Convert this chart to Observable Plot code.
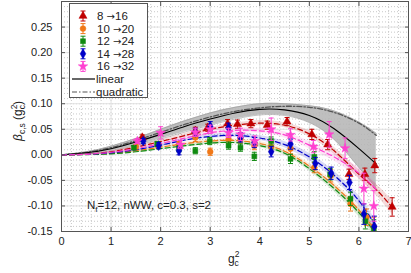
<!DOCTYPE html>
<html><head><meta charset="utf-8">
<script src="https://cdn.jsdelivr.net/npm/d3@7"></script>
<script src="https://cdn.jsdelivr.net/npm/@observablehq/plot@0.6"></script>
<style>body{margin:0;background:#fff;} svg{display:block;}</style>
</head><body><div id="chart"></div>
<script>
// ---- data ----
const xTicks = [0,1,2,3,4,5,6,7];
const yTicks = [-0.15,-0.10,-0.05,0,0.05,0.10,0.15,0.20,0.25];
const seriesNames = ["8→16","10→20","12→24","14→28","16→32"];
const seriesColors = ["#c00000","#f07818","#108a10","#0000c8","#ff40d0"];
const seriesSymbols = ["triangle","circle","square","diamond","star"];

const redG = [1.63,2.70,2.95,3.35,3.55,3.82,4.15,4.55,5.05,5.37,5.80,6.12,6.32,6.67];
const redB = [0.034,0.047,0.053,0.061,0.060,0.061,0.058,0.065,0.040,0.020,-0.038,-0.038,-0.021,-0.102];
const redE = [0.005,0.007,0.007,0.008,0.008,0.008,0.008,0.008,0.010,0.010,0.010,0.012,0.014,0.018];

const orangeG = [1.50,1.95,2.37,2.70,3.00,3.37,3.61,3.89,4.23,4.62,5.10,5.43,5.83,6.15,6.30];
const orangeB = [0.016,0.018,0.020,0.034,0.006,0.030,0.031,0.018,0.016,0.012,-0.025,-0.041,-0.096,-0.122,-0.140];
const orangeE = [0.004,0.005,0.006,0.008,0.007,0.008,0.008,0.008,0.009,0.010,0.010,0.012,0.014,0.016,0.018];

const greenG = [1.46,1.93,2.37,2.70,2.99,3.37,3.61,3.89,4.23,4.62,5.10,5.42,5.83,6.13,6.30];
const greenB = [0.014,0.021,0.012,0.008,0.027,0.018,0.014,-0.003,0.027,-0.008,-0.004,-0.038,-0.086,-0.130,-0.145];
const greenE = [0.004,0.005,0.006,0.006,0.007,0.007,0.007,0.008,0.008,0.009,0.010,0.011,0.013,0.015,0.018];

const blueG = [1.65,1.96,2.37,2.70,3.00,3.37,3.61,3.89,4.23,4.62,5.12,5.44,5.81,6.10,6.31];
const blueB = [0.027,0.018,0.008,0.044,0.056,0.053,0.034,0.024,0.006,0.021,-0.017,-0.036,-0.054,-0.116,-0.140];
const blueE = [0.005,0.006,0.008,0.008,0.009,0.009,0.009,0.010,0.010,0.010,0.012,0.012,0.014,0.020,0.020];

const pinkG = [1.53,2.00,2.40,2.70,3.00,3.37,3.61,3.90,4.23,4.62,5.08,5.40,5.72,6.10,6.30];
const pinkB = [0.027,0.043,0.020,0.044,0.050,0.043,0.040,0.027,0.050,0.039,0.016,0.040,0.013,-0.066,-0.100];
const pinkE = [0.005,0.012,0.008,0.008,0.008,0.009,0.012,0.010,0.022,0.012,0.012,0.025,0.020,0.030,0.030];

// fitted curves
const fitG    = [0,0.5,1,1.5,2,2.5,3,3.5,4,4.5,5,5.5,6,6.35];
const redFitG = [0,0.5,1,1.5,2,2.5,3,3.5,4,4.5,5,5.5,6,6.35,6.7];
const redFit   = [0,0.001,0.006,0.015,0.026,0.038,0.050,0.058,0.062,0.058,0.041,0.008,-0.038,-0.068,-0.106];
const redHw    = [0,0.001,0.002,0.003,0.003,0.004,0.004,0.004,0.005,0.005,0.006,0.007,0.009,0.011,0.014];
const orangeFit= [0,0.001,0.003,0.008,0.015,0.022,0.027,0.028,0.022,0.007,-0.022,-0.060,-0.108,-0.150];
const orangeHw = [0,0.001,0.001,0.002,0.002,0.003,0.003,0.003,0.004,0.004,0.005,0.006,0.008,0.010];
const greenFit = [0,0.0005,0.002,0.006,0.012,0.018,0.023,0.024,0.018,0.003,-0.027,-0.066,-0.113,-0.155];
const greenHw  = [0,0.001,0.001,0.002,0.002,0.003,0.003,0.003,0.004,0.004,0.005,0.006,0.008,0.010];
const blueFit  = [0,0.001,0.004,0.010,0.019,0.029,0.036,0.038,0.033,0.020,-0.004,-0.040,-0.090,-0.142];
const blueHw   = [0,0.001,0.002,0.002,0.003,0.003,0.004,0.004,0.005,0.006,0.007,0.008,0.010,0.012];
const pinkFit  = [0,0.001,0.005,0.012,0.022,0.033,0.043,0.048,0.047,0.039,0.019,-0.004,-0.036,-0.068];
const pinkHw   = [0,0.001,0.002,0.003,0.003,0.004,0.004,0.005,0.005,0.006,0.007,0.008,0.010,0.012];

const linearFit = [0,0.004,0.012,0.025,0.040,0.056,0.070,0.082,0.089,0.088,0.077,0.051,0.012,-0.018];
const linearHi  = [0,0.006,0.017,0.032,0.050,0.067,0.082,0.093,0.100,0.100,0.096,0.086,0.064,0.042];
const linearLo  = [0,0.002,0.008,0.018,0.031,0.045,0.058,0.070,0.078,0.077,0.063,0.030,-0.025,-0.065];
const quadFit   = [0,0.005,0.014,0.028,0.044,0.060,0.074,0.085,0.092,0.095,0.093,0.083,0.062,0.038];

// ---- build tables ----
const pts = [[redG,redB,redE],[orangeG,orangeB,orangeE],[greenG,greenB,greenE],[blueG,blueB,blueE],[pinkG,pinkB,pinkE]]
  .flatMap(([G,B,E],s) => G.map((g,i)=>({s, g, b:B[i], e:E[i]})));
const fits = [[redFitG,redFit,redHw],[fitG,orangeFit,orangeHw],[fitG,greenFit,greenHw],[fitG,blueFit,blueHw],[fitG,pinkFit,pinkHw]]
  .map(([G,F,H],s) => G.map((g,i)=>({s, g, f:F[i], h:H[i]})));
const gray = fitG.map((g,i)=>({g, lin:linearFit[i], hi:linearHi[i], lo:linearLo[i], q:quadFit[i]}));

const capSymbol = {draw(ctx, size){ const w = Math.sqrt(size/Math.PI); ctx.moveTo(-w,0); ctx.lineTo(w,0);} };
const minorX = d3.range(0, 7.001, 0.2);
const minorY = d3.range(-15, 31, 1).map(v => v/100);
const majorY = d3.range(-15, 31, 5).map(v => v/100);
const symR = [3.0,2.9,2.8,3.0,3.0];

const marks = [
  Plot.gridX(minorX, {stroke:"#c8c8c8", strokeOpacity:1, strokeDasharray:"1,2"}),
  Plot.gridY(minorY, {stroke:"#c8c8c8", strokeOpacity:1, strokeDasharray:"1,2"}),
  Plot.gridX(xTicks, {stroke:"#e2e2e2", strokeOpacity:1}),
  Plot.gridY(majorY, {stroke:"#e2e2e2", strokeOpacity:1}),
  Plot.areaY(gray, {x:"g", y1:"lo", y2:"hi", fill:"#b4b4b4", fillOpacity:0.85, curve:"natural", clip:true}),
  Plot.line(gray, {x:"g", y:"hi", stroke:"#9a9a9a", strokeWidth:0.6, curve:"natural", clip:true}),
  Plot.line(gray, {x:"g", y:"lo", stroke:"#9a9a9a", strokeWidth:0.6, curve:"natural", clip:true}),
  Plot.line(gray, {x:"g", y:"q", stroke:"#555", strokeWidth:1.3, strokeDasharray:"5,2,1.5,2", curve:"natural", clip:true}),
  Plot.line(gray, {x:"g", y:"lin", stroke:"#000", strokeWidth:1.1, curve:"natural", clip:true}),
];
fits.forEach((F,s) => {
  marks.push(Plot.areaY(F, {x:"g", y1:d=>d.f-d.h, y2:d=>d.f+d.h, fill:seriesColors[s], fillOpacity:0.14, curve:"natural", clip:true}));
});
fits.forEach((F,s) => {
  marks.push(Plot.line(F, {x:"g", y:"f", stroke:seriesColors[s], strokeWidth:1.2, strokeDasharray:"5,3", curve:"natural", clip:true}));
});
for (let s=0; s<5; s++) {
  const P = pts.filter(d=>d.s===s);
  marks.push(Plot.ruleX(P, {x:"g", y1:d=>d.b-d.e, y2:d=>d.b+d.e, stroke:seriesColors[s], strokeWidth:1, clip:true}));
  marks.push(Plot.dot(P, {x:"g", y:d=>d.b-d.e, symbol:capSymbol, r:2.5, stroke:seriesColors[s], fill:"none", strokeWidth:1, clip:true}));
  marks.push(Plot.dot(P, {x:"g", y:d=>d.b+d.e, symbol:capSymbol, r:2.5, stroke:seriesColors[s], fill:"none", strokeWidth:1, clip:true}));
  marks.push(Plot.dot(P, {x:"g", y:"b", symbol:seriesSymbols[s], r:symR[s], fill:seriesColors[s], stroke:seriesColors[s], strokeWidth:0.5, clip:true}));
}
marks.push(Plot.frame({stroke:"#555", strokeWidth:1}));
marks.push(Plot.axisX(xTicks, {anchor:"bottom", label:null, tickSize:-4, tickPadding:10, stroke:"#555", fill:"#222", tickFormat:d=>String(d)}));
marks.push(Plot.axisX(xTicks, {anchor:"top", label:null, tickSize:-4, stroke:"#555", tickFormat:()=>""}));
marks.push(Plot.axisY(yTicks, {anchor:"left", label:null, tickSize:-4, tickPadding:13, stroke:"#555", fill:"#222", tickFormat:d=>(d<0?"-":"")+Math.abs(d).toFixed(2)}));
marks.push(Plot.axisY(yTicks, {anchor:"right", label:null, tickSize:-4, stroke:"#555", tickFormat:()=>""}));

const chart = Plot.plot({
  width:411, height:273, marginLeft:61, marginRight:3, marginTop:1, marginBottom:42,
  style:{fontFamily:"'Liberation Sans', Arial, sans-serif", fontSize:"11px", background:"#fff"},
  x:{domain:[0,7], label:null}, y:{domain:[-0.15,0.30], label:null},
  marks
});
document.getElementById("chart").appendChild(chart);

// ---- legend, labels ----
const svg = d3.select(chart);
const ff = "'Liberation Sans', Arial, sans-serif";
const lg = svg.append("g").attr("font-family", ff).attr("font-size", 11.5).attr("fill","#222").attr("text-anchor","start");
lg.append("rect").attr("x",69.5).attr("y",3.5).attr("width",78).attr("height",94).attr("fill","#fff").attr("stroke","#555");
seriesNames.forEach((name,i)=>{
  const cy = 16 + i*12.6, cx = 83, c = seriesColors[i];
  lg.append("line").attr("x1",cx).attr("x2",cx).attr("y1",cy-5).attr("y2",cy+5).attr("stroke",c);
  lg.append("line").attr("x1",cx-2.5).attr("x2",cx+2.5).attr("y1",cy-5).attr("y2",cy-5).attr("stroke",c);
  lg.append("line").attr("x1",cx-2.5).attr("x2",cx+2.5).attr("y1",cy+5).attr("y2",cy+5).attr("stroke",c);
  const sym = {triangle:d3.symbolTriangle, circle:d3.symbolCircle, square:d3.symbolSquare, diamond:d3.symbolDiamond, star:d3.symbolStar}[seriesSymbols[i]];
  const r = symR[i];
  lg.append("path").attr("d", d3.symbol(sym, Math.PI*r*r)()).attr("transform",`translate(${cx},${cy})`).attr("fill",c).attr("stroke",c).attr("stroke-width",0.5);
  const [a,b] = name.split("→");
  const t = lg.append("text").attr("x",97).attr("y",cy).attr("dy","0.35em").attr("text-anchor","start");
  t.append("tspan").text(a + " ");
  t.append("tspan").attr("font-family","'DejaVu Sans', sans-serif").attr("font-size",10).text("→");
  t.append("tspan").text(b);
});
[["linear","none"],["quadratic","5,2,1.5,2"]].forEach(([name,dash],j)=>{
  const cy = 79 + j*13;
  lg.append("line").attr("x1",72).attr("x2",95).attr("y1",cy).attr("y2",cy).attr("stroke", j? "#555":"#000").attr("stroke-width",1.2).attr("stroke-dasharray",dash);
  lg.append("text").attr("x",96).attr("y",cy).attr("dy","0.35em").attr("text-anchor","start").text(name);
});

// y label
const yl = svg.append("text").attr("transform","translate(22,121) rotate(-90)").attr("text-anchor","middle")
  .attr("font-family",ff).attr("font-size",12).attr("fill","#222");
yl.append("tspan").attr("font-style","italic").text("β");
yl.append("tspan").attr("font-size",8.5).attr("dy",3).text("c,s");
yl.append("tspan").attr("dy",-3).text(" (g");
yl.append("tspan").attr("font-size",8.5).attr("dy",-5).text("2");
yl.append("tspan").attr("font-size",8.5).attr("dx",-4.8).attr("dy",8).text("c");
yl.append("tspan").attr("dy",-3).text(")");

// x label
const xl = svg.append("text").attr("x",228).attr("y",263).attr("text-anchor","start").attr("font-family",ff).attr("font-size",12).attr("fill","#222");
xl.append("tspan").text("g");
xl.append("tspan").attr("font-size",8.5).attr("dy",-6).text("2");
xl.append("tspan").attr("font-size",8.5).attr("dx",-4.8).attr("dy",9).text("c");

// annotation
const an = svg.append("text").attr("x",87).attr("y",209).attr("text-anchor","start").attr("font-family",ff).attr("font-size",11.5).attr("fill","#222");
an.append("tspan").text("N");
an.append("tspan").attr("font-size",8).attr("dy",3).text("f");
an.append("tspan").attr("dy",-3).text("=12, nWW, c=0.3, s=2");
</script>
</body></html>
